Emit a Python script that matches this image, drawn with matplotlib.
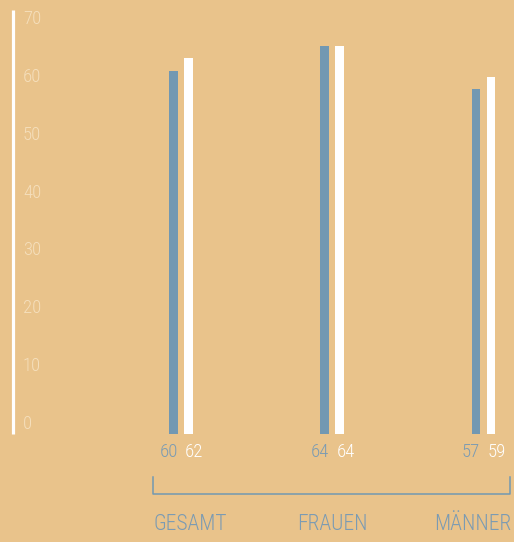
import matplotlib
matplotlib.use('Agg')
import matplotlib.pyplot as plt
import numpy as np

# Daten
kategorien = ['GESAMT', 'FRAUEN', 'MÄNNER']
werte_blau = [60, 64, 57]
werte_weiss = [62, 64, 59]
y_ticks = [0, 10, 20, 30, 40, 50, 60, 70]

# Farben
hintergrund = '#e9c38b'
blau = '#7298b2'
blau_text = '#7b9bb3'
weiss = '#ffffff'
achsen_text = '#f5dfbc'

plt.rcParams['font.family'] = ['Roboto Condensed', 'DejaVu Sans']
plt.rcParams['font.weight'] = 'light'

W, H = 514, 542
fig = plt.figure(figsize=(W / 100, H / 100), dpi=100, facecolor=hintergrund)

# Achse: y=0 bei Pixel 434, y=70 bei Pixel 10
ax = fig.add_axes([0, (H - 434) / H, 1, 424 / H])
ax.set_facecolor(hintergrund)
einheit = 151.25  # Pixel pro Kategorie
x0 = 181          # Pixel der ersten Gruppe
ax.set_xlim(-x0 / einheit, (W - x0) / einheit)
ax.set_ylim(0, 70)
ax.axis('off')

def dx(px):
    return (px - x0) / einheit

def dy(py):
    return (434 - py) * 70 / 424

x = np.arange(len(kategorien))
breite = 8.5 / einheit
versatz = 7.5 / einheit

ax.bar(x - versatz, werte_blau, width=breite, color=blau, zorder=2)
ax.bar(x + versatz, werte_weiss, width=breite, color=weiss, zorder=2)

# y-Achsenlinie
ax.plot([dx(12.5), dx(12.5)], [0, 70], color=weiss, lw=2.3, solid_capstyle='butt',
        clip_on=False)

# y-Beschriftungen (gleichmaessig zwischen Pixel 424 und 19)
for i, t in enumerate(y_ticks):
    py = 424 - i * (424 - 19) / (len(y_ticks) - 1)
    ax.text(dx(23), dy(py), str(t), color=achsen_text, fontsize=13.5,
            ha='left', va='center', clip_on=False)

# Wertebeschriftungen
for i in range(len(kategorien)):
    ax.text(x[i] - versatz + breite / 2, dy(452), str(werte_blau[i]),
            color=blau_text, fontsize=13.5, ha='right', va='center', clip_on=False)
    ax.text(x[i] + versatz - breite / 2 + dx(1) - dx(0), dy(452), str(werte_weiss[i]),
            color=weiss, fontsize=13.5, ha='left', va='center', clip_on=False)

# Klammer
ax.plot([dx(153.5), dx(153.5), dx(510.5), dx(510.5)],
        [dy(476.5), dy(494), dy(494), dy(476.5)],
        color=blau, lw=1.1, clip_on=False)

# Kategorien
ax.text(dx(154), dy(525), kategorien[0], color=blau_text, fontsize=15.5,
        ha='left', va='center', clip_on=False)
ax.text(dx(332), dy(525), kategorien[1], color=blau_text, fontsize=15.5,
        ha='center', va='center', clip_on=False)
ax.text(dx(511.5), dy(525), kategorien[2], color=blau_text, fontsize=15.5,
        ha='right', va='center', clip_on=False)

fig.savefig('out.png', dpi=100, facecolor=hintergrund)
